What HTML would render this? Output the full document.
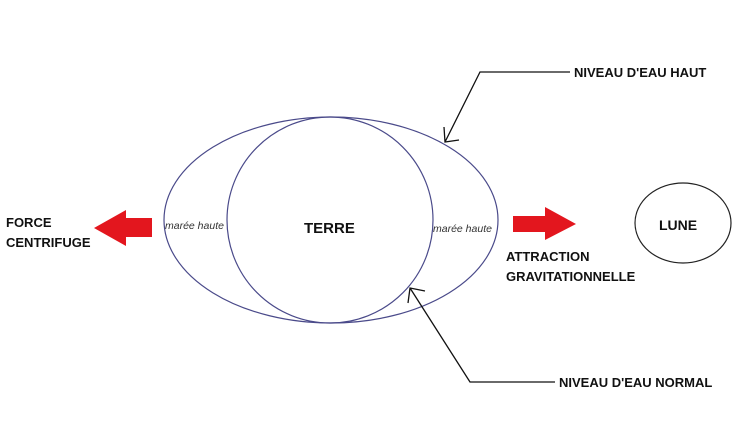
<!DOCTYPE html>
<html><head><meta charset="utf-8"><style>
body{margin:0;background:#fff;}
svg{display:block;}
text{font-family:"Liberation Sans",sans-serif;}
.b{font-weight:bold;font-size:13px;fill:#111;}
.i{font-style:italic;font-size:10.5px;fill:#333;}
</style></head><body>
<svg width="754" height="423" viewBox="0 0 754 423">
<rect width="754" height="423" fill="#fff"/>
<ellipse cx="331" cy="220" rx="167" ry="103" fill="none" stroke="#4a4a8a" stroke-width="1.2"/>
<circle cx="330" cy="220" r="103" fill="none" stroke="#4a4a8a" stroke-width="1.2"/>
<ellipse cx="683" cy="223" rx="48" ry="40" fill="none" stroke="#222" stroke-width="1.2"/>
<polygon points="94,228 126,210 126,218 152,218 152,237 126,237 126,246" fill="#e3161e"/>
<polygon points="576,224 545,207 545,216 513,216 513,232 545,232 545,240" fill="#e3161e"/>
<polyline points="570,72 480,72 445,142" fill="none" stroke="#111" stroke-width="1.3"/>
<polyline points="444,127 445,142 459,140" fill="none" stroke="#111" stroke-width="1.3"/>
<polyline points="555,382 470,382 410,288" fill="none" stroke="#111" stroke-width="1.3"/>
<polyline points="408,303 410,288 425,291" fill="none" stroke="#111" stroke-width="1.3"/>
<text class="b" x="574" y="77">NIVEAU D'EAU HAUT</text>
<text class="b" x="559" y="387">NIVEAU D'EAU NORMAL</text>
<text class="b" x="304" y="233" style="font-size:15px">TERRE</text>
<text class="b" x="659" y="230" style="font-size:14px">LUNE</text>
<text class="b" x="6" y="227">FORCE</text>
<text class="b" x="6" y="247">CENTRIFUGE</text>
<text class="b" x="506" y="261">ATTRACTION</text>
<text class="b" x="506" y="281">GRAVITATIONNELLE</text>
<text class="i" x="165" y="229">marée haute</text>
<text class="i" x="433" y="232">marée haute</text>
</svg>
</body></html>
